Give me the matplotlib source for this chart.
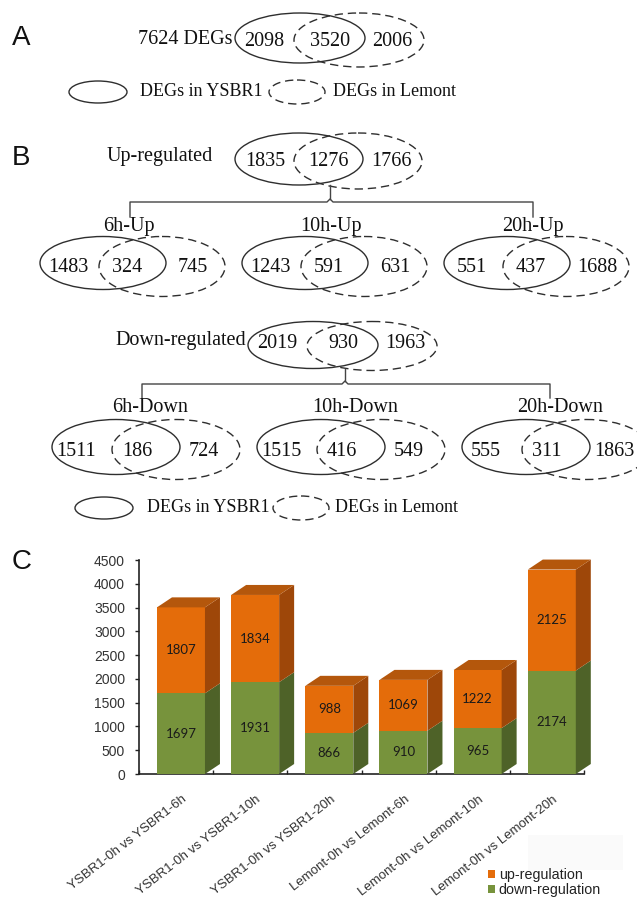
import matplotlib
matplotlib.use("Agg")
import numpy as np
import matplotlib.pyplot as plt
from matplotlib.patches import Ellipse, Polygon, Rectangle, Patch

W, H = 637, 901

# Venn counts: (YSBR1 only, shared, Lemont only)
total_label = "7624 DEGs"
venn_total = (2098, 3520, 2006)
venn_up = (1835, 1276, 1766)
venn_down = (2019, 930, 1963)
up_titles = ["6h-Up", "10h-Up", "20h-Up"]
up_counts = [(1483, 324, 745), (1243, 591, 631), (551, 437, 1688)]
down_titles = ["6h-Down", "10h-Down", "20h-Down"]
down_counts = [(1511, 186, 724), (1515, 416, 549), (555, 311, 1863)]

# DEG numbers per comparison
comparisons = ["YSBR1-0h vs YSBR1-6h", "YSBR1-0h vs YSBR1-10h", "YSBR1-0h vs YSBR1-20h",
               "Lemont-0h vs Lemont-6h", "Lemont-0h vs Lemont-10h", "Lemont-0h vs Lemont-20h"]
down_reg = [1697, 1931, 866, 910, 965, 2174]
up_reg = [1807, 1834, 988, 1069, 1222, 2125]

SERIF = "Liberation Serif"
SANS = "Liberation Sans"
LINE = "#2e2e2e"
DASH = (0, (6, 3.5))

ORANGE, ORANGE_SIDE, ORANGE_TOP = "#E46C0A", "#9E4709", "#B4570C"
GREEN, GREEN_SIDE = "#77933C", "#4E6228"

fig = plt.figure(figsize=(W / 100, H / 100), dpi=100, facecolor="w")

# pixel-space canvas for the Venn panels
ax = fig.add_axes([0, 0, 1, 1])
ax.set_xlim(0, W)
ax.set_ylim(H, 0)
ax.axis("off")


def venn(cx, cy, counts, w, h, shift, offs, dy=3, hd=4):
    ax.add_patch(Ellipse((cx, cy), w, h, fill=False, ec=LINE, lw=1.0))
    ax.add_patch(Ellipse((cx + shift, cy + hd / 2), w, h + hd, fill=False,
                         ec=LINE, lw=1.0, ls=DASH))
    for dx, n in zip(offs, counts):
        ax.text(cx + dx, cy + dy, str(n), ha="center", va="center",
                fontsize=14.5, family=SERIF, color="#111")


def bracket(x0, xm, x1, ytop, ybar, ybot):
    c = "#444"
    ax.plot([x0, x0, xm - 3, xm, xm + 3, x1, x1],
            [ybot, ybar, ybar, ybar - 3, ybar, ybar, ybot], color=c, lw=1.0)
    ax.plot([xm, xm], [ytop, ybar - 3], color=c, lw=1.0)


def legend_row(xs, xt1, xd, xt2, y):
    ax.add_patch(Ellipse((xs, y), 58, 22, fill=False, ec=LINE, lw=1.0))
    ax.text(xt1, y - 1, "DEGs in YSBR1", ha="left", va="center",
            fontsize=13, family=SERIF, color="#111")
    ax.add_patch(Ellipse((xd, y), 56, 24, fill=False, ec=LINE, lw=1.0, ls=DASH))
    ax.text(xt2, y - 1, "DEGs in Lemont", ha="left", va="center",
            fontsize=13, family=SERIF, color="#111")


# panel letters
for letter, y in [("A", 38), ("B", 158), ("C", 562)]:
    ax.text(12, y, letter, ha="left", va="center", fontsize=20, family=SANS, color="#111")

# A
ax.text(232, 40, total_label, ha="right", va="center", fontsize=14.5, family=SERIF, color="#111")
venn(300, 38, venn_total, 130, 50, 59, (-36, 30, 92))
legend_row(98, 140, 297, 333, 92)

# B, up-regulated
ax.text(160, 157, "Up-regulated", ha="center", va="center", fontsize=14.5, family=SERIF, color="#111")
venn(299, 159, venn_up, 128, 52, 59, (-34, 29, 92))
bracket(130, 330, 533, 185, 202, 217)
for k, (t, c) in enumerate(zip(up_titles, up_counts)):
    cx = 103 + 202 * k
    ax.text(cx + 26, 227, t, ha="center", va="center", fontsize=14.5, family=SERIF, color="#111")
    venn(cx, 263, c, 126, 53, 59, (-35, 24, 90), dy=5, hd=7)

# B, down-regulated
ax.text(246, 341, "Down-regulated", ha="right", va="center", fontsize=14.5, family=SERIF, color="#111")
venn(313, 345, venn_down, 130, 47, 59, (-36, 30, 92), dy=-2, hd=2)
bracket(142, 345, 550, 369, 384, 398)
for k, (t, c) in enumerate(zip(down_titles, down_counts)):
    cx = 116 + 205 * k
    ax.text(cx + 34, 408, t, ha="center", va="center", fontsize=14.5, family=SERIF, color="#111")
    venn(cx, 447, c, 128, 55, 60, (-40, 21, 88), dy=4, hd=5)
legend_row(104, 147, 301, 335, 508)

# faint box near the legend
ax.add_patch(Rectangle((528, 835), 95, 35, fc="#fafafa", ec="none", zorder=0))

# C, pseudo-3D stacked columns
axc = fig.add_axes([139 / W, (H - 774) / H, (584 - 139) / W, (774 - 560) / H])
axc.set_xlim(0, 6)
axc.set_ylim(0, 4500)
axc.patch.set_alpha(0)

bw = 48 / 74.2
ddx = 15 / 74.2
ddy = 10 * 4500 / 214
x0 = np.arange(len(comparisons)) + 18 / 74.2


def block(x, y0, y1, front, side, top=None):
    axc.add_patch(Rectangle((x, y0), bw, y1 - y0, fc=front, ec="none", clip_on=False, zorder=3))
    axc.add_patch(Polygon([(x + bw, y0), (x + bw + ddx, y0 + ddy), (x + bw + ddx, y1 + ddy),
                           (x + bw, y1)], closed=True, fc=side, ec="none", clip_on=False, zorder=3))
    if top:
        axc.add_patch(Polygon([(x, y1), (x + ddx, y1 + ddy), (x + bw + ddx, y1 + ddy),
                               (x + bw, y1)], closed=True, fc=top, ec="none", clip_on=False, zorder=3))


for x, d, u in zip(x0, down_reg, up_reg):
    block(x, 0, d, GREEN, GREEN_SIDE)
    block(x, d, d + u, ORANGE, ORANGE_SIDE, ORANGE_TOP)
    axc.text(x + bw / 2, d / 2, str(d), ha="center", va="center",
             fontsize=9.5, family="Lato", color="#1a1a1a", zorder=4)
    axc.text(x + bw / 2, d + u / 2, str(u), ha="center", va="center",
             fontsize=9.5, family="Lato", color="#1a1a1a", zorder=4)

for s in ["top", "right"]:
    axc.spines[s].set_visible(False)
for s in ["left", "bottom"]:
    axc.spines[s].set_color("#222")
    axc.spines[s].set_linewidth(1.2)

axc.set_yticks(np.arange(0, 4501, 500))
axc.tick_params(axis="y", direction="out", length=3, width=1, pad=7,
                labelsize=10, labelcolor="#333", color="#222")
for lab in axc.get_yticklabels():
    lab.set_family(SANS)

axc.set_xticks(np.arange(7))
axc.set_xticklabels([])
axc.tick_params(axis="x", which="major", direction="in", length=3, width=1, color="#222")
axc.set_xticks(x0 + bw / 2 + 0.01, minor=True)
axc.set_xticklabels(comparisons, minor=True, rotation=38, ha="right",
                    rotation_mode="anchor", fontsize=9.5, family=SANS, color="#333")
axc.tick_params(axis="x", which="minor", length=0, pad=14)

handles = [Patch(fc=ORANGE, label="up-regulation"), Patch(fc=GREEN, label="down-regulation")]
leg = axc.legend(handles=handles, loc="upper left", bbox_to_anchor=(488 / W, 1 - 868 / H),
                 bbox_transform=fig.transFigure, frameon=False,
                 handlelength=0.5, handleheight=0.5, handletextpad=0.25,
                 labelspacing=0.05, borderpad=0, borderaxespad=0,
                 prop={"family": SANS, "size": 10.3})
for t in leg.get_texts():
    t.set_color("#222")

fig.savefig("out.png", dpi=100)
